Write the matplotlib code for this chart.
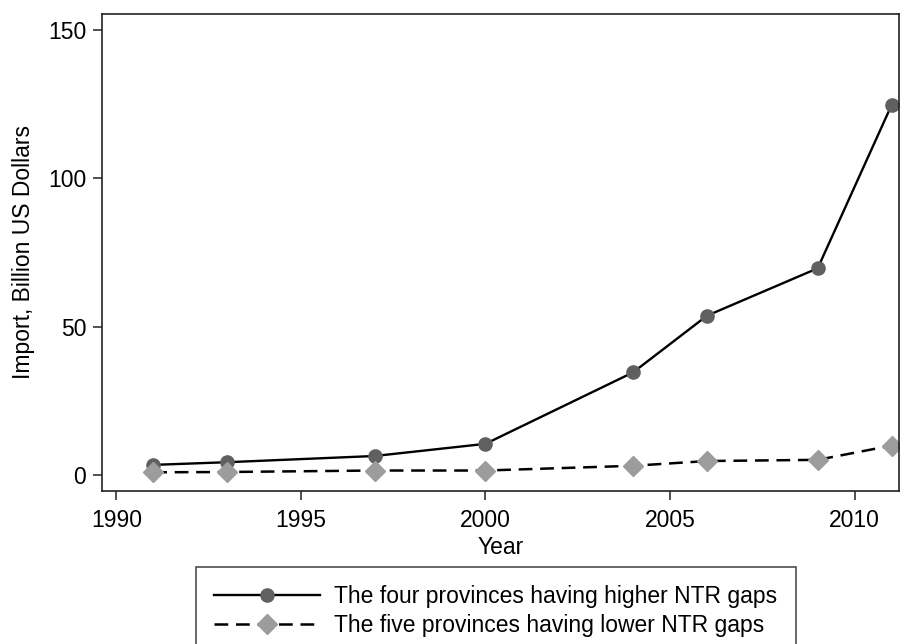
import matplotlib
matplotlib.use("Agg")
import matplotlib.pyplot as plt

plt.rcParams['font.family'] = ['Liberation Sans', 'DejaVu Sans']

years = [1991, 1993, 1997, 2000, 2004, 2006, 2009, 2011]
higher_gap = [3.4, 4.3, 6.4, 10.5, 34.6, 53.7, 69.7, 124.7]
lower_gap = [0.9, 1.0, 1.5, 1.5, 3.1, 4.7, 5.1, 9.9]

label_high = "The four provinces having higher NTR gaps"
label_low = "The five provinces having lower NTR gaps"

fs = 16.5

fig = plt.figure(figsize=(9, 6.44), dpi=100)
ax = fig.add_axes([0.1128, 0.2376, 0.886, 0.7414])

ax.plot(years, higher_gap, color='black', lw=1.7, marker='o', ms=9.5,
        markerfacecolor='#606060', markeredgecolor='#606060', label=label_high)
ax.plot(years, lower_gap, color='black', lw=1.8, linestyle=(0, (5.5, 3.1)), marker='D', ms=10,
        markerfacecolor='#9c9c9c', markeredgecolor='#9c9c9c', label=label_low)

ax.set_xlim(1989.6, 2011.2)
ax.set_ylim(-5.4, 155.6)
ax.set_xticks([1990, 1995, 2000, 2005, 2010])
ax.set_yticks([0, 50, 100, 150])
ax.tick_params(direction='out', length=6.5, width=1.1, labelsize=fs, color='#222222', pad=4.5)
ax.tick_params(axis='x', pad=6.5)
for s in ax.spines.values():
    s.set_linewidth(1.2)
    s.set_color('#222222')

ax.set_xlabel('Year', fontsize=fs, labelpad=2.5)
ax.set_ylabel('Import, Billion US Dollars', fontsize=fs, labelpad=9)

leg = fig.legend(loc='upper center', bbox_to_anchor=(0.551, 0.1196), ncol=1,
                 fontsize=fs, frameon=True, fancybox=False, edgecolor='#222222',
                 handlelength=4.6, handletextpad=0.65, borderpad=0.8,
                 labelspacing=0.25, borderaxespad=0)
leg.get_frame().set_linewidth(1.2)

fig.savefig('out.png', dpi=100)
